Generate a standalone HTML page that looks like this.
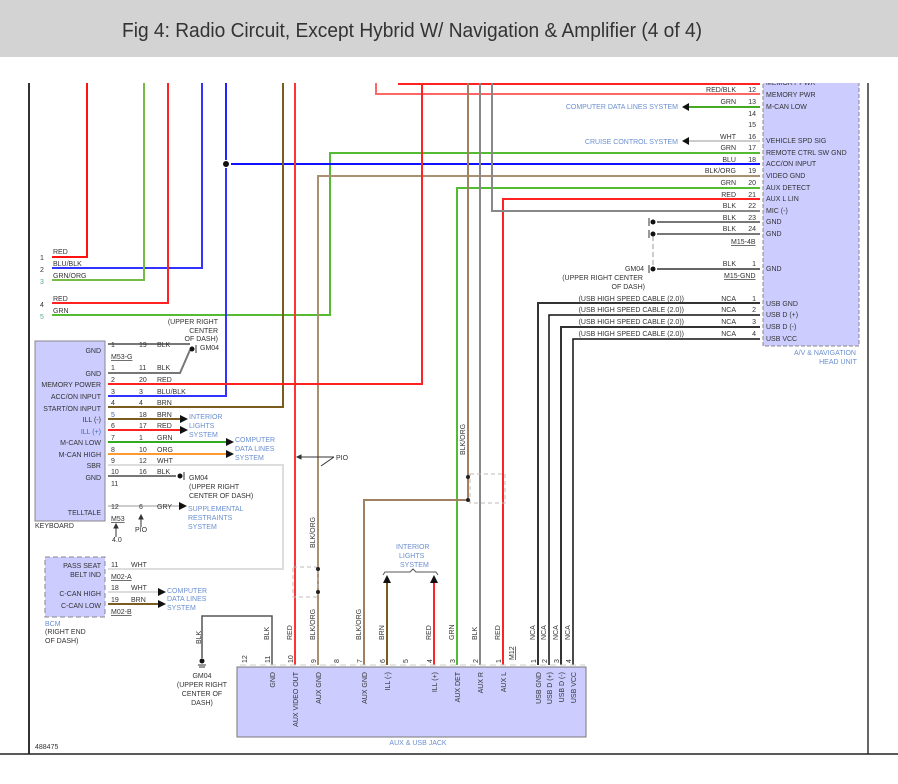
<!DOCTYPE html>
<html><head><meta charset="utf-8"><style>
html,body{margin:0;padding:0;background:#fff;}
svg{display:block;font-family:"Liberation Sans",sans-serif;}
.t{font-size:7px;fill:#333;}
.b{font-size:7px;fill:#6a8fd0;}
.l{font-size:7.5px;fill:#333;}
</style></head><body>
<svg width="898" height="784" viewBox="0 0 898 784" xmlns="http://www.w3.org/2000/svg">
<!-- AV head unit -->
<rect x="763" y="76" width="96" height="270" fill="#ccccff" stroke="#888" stroke-dasharray="4,2"/>
<g class="t" fill="#333">
<text x="766" y="85">MEMORY PWR</text>
<text x="766" y="97">MEMORY PWR</text>
<text x="766" y="109">M-CAN LOW</text>
<text x="766" y="143">VEHICLE SPD SIG</text>
<text x="766" y="155">REMOTE CTRL SW GND</text>
<text x="766" y="166">ACC/ON INPUT</text>
<text x="766" y="178">VIDEO GND</text>
<text x="766" y="190">AUX DETECT</text>
<text x="766" y="201">AUX L LIN</text>
<text x="766" y="213">MIC (-)</text>
<text x="766" y="224">GND</text>
<text x="766" y="236">GND</text>
<text x="766" y="271">GND</text>
<text x="766" y="306">USB GND</text>
<text x="766" y="317">USB D (+)</text>
<text x="766" y="329">USB D (-)</text>
<text x="766" y="341">USB VCC</text>
</g>
<rect x="0" y="57" width="898" height="26" fill="#fff"/>
<rect x="0" y="0" width="898" height="57" fill="#d3d3d3"/>
<text x="122" y="37" font-size="20" fill="#333" textLength="580" lengthAdjust="spacingAndGlyphs">Fig 4: Radio Circuit, Except Hybrid W/ Navigation &amp; Amplifier (4 of 4)</text>
<!-- frame -->
<line x1="29" y1="83" x2="29" y2="754" stroke="#333" stroke-width="2"/>
<line x1="868" y1="83" x2="868" y2="754" stroke="#333" stroke-width="1.5"/>
<line x1="0" y1="754" x2="898" y2="754" stroke="#222" stroke-width="1.5"/>
<text x="35" y="749" class="t">488475</text>

<text x="825" y="355" class="b" text-anchor="middle">A/V &amp; NAVIGATION</text>
<text x="838" y="364" class="b" text-anchor="middle">HEAD UNIT</text>
<g class="t" text-anchor="end">
<text x="756" y="92">12</text><text x="736" y="92">RED/BLK</text>
<text x="756" y="104">13</text><text x="736" y="104">GRN</text>
<text x="756" y="116">14</text>
<text x="756" y="127">15</text>
<text x="756" y="139">16</text><text x="736" y="139">WHT</text>
<text x="756" y="150">17</text><text x="736" y="150">GRN</text>
<text x="756" y="162">18</text><text x="736" y="162">BLU</text>
<text x="756" y="173">19</text><text x="736" y="173">BLK/ORG</text>
<text x="756" y="185">20</text><text x="736" y="185">GRN</text>
<text x="756" y="197">21</text><text x="736" y="197">RED</text>
<text x="756" y="208">22</text><text x="736" y="208">BLK</text>
<text x="756" y="220">23</text><text x="736" y="220">BLK</text>
<text x="756" y="231">24</text><text x="736" y="231">BLK</text>
<text x="756" y="266">1</text><text x="736" y="266">BLK</text>
<text x="756" y="301">1</text><text x="736" y="301">NCA</text>
<text x="756" y="312">2</text><text x="736" y="312">NCA</text>
<text x="756" y="324">3</text><text x="736" y="324">NCA</text>
<text x="756" y="336">4</text><text x="736" y="336">NCA</text>
<text x="684" y="301">(USB HIGH SPEED CABLE (2.0))</text>
<text x="684" y="312">(USB HIGH SPEED CABLE (2.0))</text>
<text x="684" y="324">(USB HIGH SPEED CABLE (2.0))</text>
<text x="684" y="336">(USB HIGH SPEED CABLE (2.0))</text>
<text x="644" y="271">GM04</text>
<text x="643" y="280">(UPPER RIGHT CENTER</text>
<text x="645" y="289">OF DASH)</text>
</g>
<text x="678" y="109" class="b" text-anchor="end">COMPUTER DATA LINES SYSTEM</text>
<text x="678" y="144" class="b" text-anchor="end">CRUISE CONTROL SYSTEM</text>
<text x="731" y="244" class="t" text-decoration="underline">M15-4B</text>
<text x="724" y="278" class="t" text-decoration="underline">M15-GND</text>

<!-- top-right wires -->
<g fill="none" stroke-width="2">
<polyline points="398,84 760,84" stroke="#ff2222"/>
<polyline points="376,83 376,94 760,94" stroke="#ff6666"/>
<polyline points="689,107 760,107" stroke="#44aa22"/>
<polyline points="689,141 760,141" stroke="#ccc"/>
<polyline points="87,83 87,257 52,257" stroke="#ff1111"/>
<polyline points="202,83 202,268 52,268" stroke="#3333ff"/>
<polyline points="144,83 144,280 52,280" stroke="#77bb44"/>
<polyline points="168,83 168,303 52,303" stroke="#ff2222"/>
<polyline points="52,315 330,315 330,153 760,153" stroke="#55bb33"/>
<polyline points="226,83 226,160" stroke="#2222ff"/>
<polyline points="226,168 226,396 108,396" stroke="#3333ff"/>
<polyline points="231,164 760,164" stroke="#1111ff"/>
<polyline points="283,83 283,407 108,407" stroke="#7a5c1e"/>
<polyline points="295,83 295,665" stroke="#ff3333"/>
<polyline points="760,176 318,176 318,665" stroke="#a89070"/>
<polyline points="422,83 422,384 108,384" stroke="#ff2222"/>
<polyline points="760,188 457,188 457,665" stroke="#55bb33"/>
<polyline points="760,199 503,199 503,665" stroke="#ff2222"/>
<polyline points="492,83 492,211 760,211" stroke="#888"/>
<polyline points="468,83 468,500 364,500 364,665" stroke="#a08060"/>
<polyline points="480,83 480,665" stroke="#888"/>
<polyline points="657,222 760,222" stroke="#777"/>
<polyline points="657,234 760,234" stroke="#777"/>
<polyline points="657,269 760,269" stroke="#666"/>
<polyline points="760,303 538,303 538,665" stroke="#333"/>
<polyline points="760,315 549,315 549,665" stroke="#111" stroke-width="1.5"/>
<polyline points="760,327 561,327 561,665" stroke="#333"/>
<polyline points="760,339 573,339 573,665" stroke="#111" stroke-width="1.5"/>
</g>
<line x1="653" y1="236" x2="653" y2="266" stroke="#999" stroke-dasharray="5,3"/>
<g fill="#111">
<circle cx="226" cy="164" r="3"/>
<circle cx="653" cy="222" r="2.5"/><circle cx="653" cy="234" r="2.5"/><circle cx="653" cy="269" r="2.5"/>
<polygon points="682,107 689,103 689,111"/>
<polygon points="682,141 689,137 689,145"/>
</g>
<g stroke="#333" fill="none"><line x1="649" y1="218" x2="649" y2="226"/><line x1="649" y1="230" x2="649" y2="238"/><line x1="649" y1="265" x2="649" y2="273"/></g>
<g class="t">
<text x="53" y="254">RED</text><text x="40" y="260">1</text>
<text x="53" y="266">BLU/BLK</text><text x="40" y="272">2</text>
<text x="53" y="278">GRN/ORG</text><text x="40" y="284" fill="#5a9">3</text>
<text x="53" y="301">RED</text><text x="40" y="307">4</text>
<text x="53" y="313">GRN</text><text x="40" y="319" fill="#5a9">5</text>
<text x="218" y="324" text-anchor="end">(UPPER RIGHT</text>
<text x="218" y="333" text-anchor="end">CENTER</text>
<text x="218" y="341" text-anchor="end">OF DASH)</text>
</g>

<!-- keyboard -->
<rect x="35" y="341" width="70" height="180" fill="#ccccff" stroke="#888"/>
<g class="t" text-anchor="end">
<text x="101" y="353">GND</text><text x="101" y="376">GND</text>
<text x="101" y="387">MEMORY POWER</text><text x="101" y="399">ACC/ON INPUT</text>
<text x="101" y="411">START/ON INPUT</text><text x="101" y="422">ILL (-)</text>
<text x="101" y="434" fill="#46a">ILL (+)</text><text x="101" y="445">M-CAN LOW</text>
<text x="101" y="457">M-CAN HIGH</text><text x="101" y="468">SBR</text>
<text x="101" y="480">GND</text><text x="101" y="515">TELLTALE</text>
</g>
<text x="35" y="528" class="t">KEYBOARD</text>
<g fill="none" stroke-width="2">
<polyline points="108,344 190,344" stroke="#777"/>
<polyline points="108,373 180,373 190,350" stroke="#777"/>
<polyline points="108,419 180,419" stroke="#7a5c1e"/>
<polyline points="108,430 180,430" stroke="#ff2222"/>
<polyline points="108,442 226,442" stroke="#33aa22"/>
<polyline points="108,454 226,454" stroke="#ff9933"/>
<polyline points="108,465 283,465 283,569 108,569" stroke="#ddd"/>
<polyline points="108,476 176,476" stroke="#777"/>
<polyline points="108,506 180,506" stroke="#ccc"/>
<polyline points="108,592 158,592" stroke="#ddd"/>
<polyline points="108,604 158,604" stroke="#7a5c1e"/>
</g>
<g fill="#111">
<circle cx="192" cy="349" r="2.5"/><circle cx="180" cy="476" r="2.5"/>
<polygon points="188,419 180,415 180,423"/><polygon points="188,430 180,426 180,434"/>
<polygon points="234,442 226,438 226,446"/><polygon points="234,454 226,450 226,458"/>
<polygon points="187,506 179,502 179,510"/>
<polygon points="166,592 158,588 158,596"/><polygon points="166,604 158,600 158,608"/>
</g>
<g stroke="#333"><line x1="196" y1="345" x2="196" y2="353"/><line x1="184" y1="472" x2="184" y2="480"/></g>
<g class="t">
<text x="111" y="347">1</text><text x="139" y="347">19</text><text x="157" y="347">BLK</text>
<text x="111" y="359" text-decoration="underline">M53-G</text>
<text x="111" y="370">1</text><text x="139" y="370">11</text><text x="157" y="370">BLK</text>
<text x="111" y="382">2</text><text x="139" y="382">20</text><text x="157" y="382">RED</text>
<text x="111" y="394">3</text><text x="139" y="394">3</text><text x="157" y="394">BLU/BLK</text>
<text x="111" y="405">4</text><text x="139" y="405">4</text><text x="157" y="405">BRN</text>
<text x="111" y="417" fill="#46a">5</text><text x="139" y="417">18</text><text x="157" y="417">BRN</text>
<text x="111" y="428">6</text><text x="139" y="428">17</text><text x="157" y="428">RED</text>
<text x="111" y="440">7</text><text x="139" y="440">1</text><text x="157" y="440">GRN</text>
<text x="111" y="452">8</text><text x="139" y="452">10</text><text x="157" y="452">ORG</text>
<text x="111" y="463">9</text><text x="139" y="463">12</text><text x="157" y="463">WHT</text>
<text x="111" y="474">10</text><text x="139" y="474">16</text><text x="157" y="474">BLK</text>
<text x="111" y="486">11</text>
<text x="111" y="509">12</text><text x="139" y="509">6</text><text x="157" y="509">GRY</text>
<text x="111" y="521" text-decoration="underline">M53</text>
<text x="112" y="542">4.0</text><text x="135" y="532">PIO</text>
<text x="200" y="350">GM04</text>
<text x="189" y="480">GM04</text><text x="189" y="489">(UPPER RIGHT</text><text x="189" y="498">CENTER OF DASH)</text>
<text x="336" y="460">PIO</text>
</g>
<g stroke="#333" fill="#333">
<line x1="116" y1="537" x2="116" y2="527"/><polygon points="116,524 114,528 118,528"/>
<line x1="141" y1="527" x2="141" y2="518"/><polygon points="141,515 139,519 143,519"/>
<line x1="334" y1="457" x2="299" y2="457"/><polygon points="297,457 301,455 301,459"/>
<line x1="334" y1="457" x2="321" y2="466"/>
</g>
<g class="b">
<text x="189" y="419">INTERIOR</text><text x="189" y="428">LIGHTS</text><text x="189" y="437">SYSTEM</text>
<text x="235" y="442">COMPUTER</text><text x="235" y="451">DATA LINES</text><text x="235" y="460">SYSTEM</text>
<text x="188" y="511">SUPPLEMENTAL</text><text x="188" y="520">RESTRAINTS</text><text x="188" y="529">SYSTEM</text>
<text x="167" y="593">COMPUTER</text><text x="167" y="601">DATA LINES</text><text x="167" y="610">SYSTEM</text>
<text x="396" y="549">INTERIOR</text><text x="399" y="558">LIGHTS</text><text x="400" y="567">SYSTEM</text>
</g>

<!-- BCM -->
<rect x="45" y="557" width="60" height="60" fill="#ccccff" stroke="#888" stroke-dasharray="5,3"/>
<g class="t" text-anchor="end">
<text x="101" y="568">PASS SEAT</text><text x="101" y="577">BELT IND</text>
<text x="101" y="596">C-CAN HIGH</text><text x="101" y="608">C-CAN LOW</text>
</g>
<g class="t">
<text x="111" y="567">11</text><text x="131" y="567">WHT</text>
<text x="111" y="579" text-decoration="underline">M02-A</text>
<text x="111" y="590">18</text><text x="131" y="590">WHT</text>
<text x="111" y="602">19</text><text x="131" y="602">BRN</text>
<text x="111" y="614" text-decoration="underline">M02-B</text>
</g>
<g class="b"><text x="45" y="626">BCM</text></g>
<g class="t"><text x="45" y="634">(RIGHT END</text><text x="45" y="643">OF DASH)</text></g>

<!-- splices -->
<rect x="293" y="567" width="25" height="30" fill="none" stroke="#bbb" stroke-dasharray="4,3"/>
<rect x="470" y="474" width="35" height="29" fill="none" stroke="#bbb" stroke-dasharray="4,3"/>
<g fill="#222"><circle cx="318" cy="569" r="2"/><circle cx="318" cy="592" r="2"/><circle cx="468" cy="477" r="2"/><circle cx="468" cy="500" r="2"/></g>

<!-- interior lights arrows -->
<polyline points="383,575 385,572 410,572 413,569 416,572 436,572 438,575" fill="none" stroke="#555"/>
<line x1="387" y1="582" x2="387" y2="665" stroke="#7a5c1e" stroke-width="2"/>
<line x1="434" y1="582" x2="434" y2="665" stroke="#ff2222" stroke-width="2"/>
<polygon points="387,575 383,583 391,583" fill="#111"/>
<polygon points="434,575 430,583 438,583" fill="#111"/>

<!-- GM04 ground bottom -->
<polyline points="272,665 272,616 202,616 202,658" fill="none" stroke="#555" stroke-width="1.5"/>
<circle cx="202" cy="661" r="2.5" fill="#111"/>
<g stroke="#333"><line x1="198" y1="665" x2="206" y2="665"/><line x1="199" y1="667" x2="205" y2="667"/></g>
<g class="t" text-anchor="middle">
<text x="202" y="678">GM04</text><text x="202" y="687">(UPPER RIGHT</text><text x="202" y="696">CENTER OF</text><text x="202" y="705">DASH)</text>
</g>

<!-- AUX jack -->
<rect x="237" y="667" width="349" height="70" fill="#ccccff" stroke="#777"/>
<text x="418" y="745" class="b" text-anchor="middle">AUX &amp; USB JACK</text>
<g class="t">
<text transform="translate(201,644) rotate(-90)">BLK</text>
<text transform="translate(269,640) rotate(-90)">BLK</text>
<text transform="translate(292,640) rotate(-90)">RED</text>
<text transform="translate(315,640) rotate(-90)">BLK/ORG</text>
<text transform="translate(315,548) rotate(-90)">BLK/ORG</text>
<text transform="translate(361,640) rotate(-90)">BLK/ORG</text>
<text transform="translate(465,455) rotate(-90)">BLK/ORG</text>
<text transform="translate(384,640) rotate(-90)">BRN</text>
<text transform="translate(431,640) rotate(-90)">RED</text>
<text transform="translate(454,640) rotate(-90)">GRN</text>
<text transform="translate(477,640) rotate(-90)">BLK</text>
<text transform="translate(500,640) rotate(-90)">RED</text>
<text transform="translate(514,660) rotate(-90)" text-decoration="underline">M12</text>
<text transform="translate(535,640) rotate(-90)">NCA</text>
<text transform="translate(546,640) rotate(-90)">NCA</text>
<text transform="translate(558,640) rotate(-90)">NCA</text>
<text transform="translate(570,640) rotate(-90)">NCA</text>
</g>
<g class="t">
<text transform="translate(247,663) rotate(-90)">12</text>
<text transform="translate(270,663) rotate(-90)">11</text>
<text transform="translate(293,663) rotate(-90)">10</text>
<text transform="translate(316,663) rotate(-90)">9</text>
<text transform="translate(339,663) rotate(-90)">8</text>
<text transform="translate(362,663) rotate(-90)">7</text>
<text transform="translate(385,663) rotate(-90)">6</text>
<text transform="translate(408,663) rotate(-90)">5</text>
<text transform="translate(432,663) rotate(-90)">4</text>
<text transform="translate(455,663) rotate(-90)">3</text>
<text transform="translate(478,663) rotate(-90)">2</text>
<text transform="translate(501,663) rotate(-90)">1</text>
<text transform="translate(536,663) rotate(-90)">1</text>
<text transform="translate(547,663) rotate(-90)">2</text>
<text transform="translate(559,663) rotate(-90)">3</text>
<text transform="translate(571,663) rotate(-90)">4</text>
</g>
<g class="t" text-anchor="end">
<text transform="translate(275,672) rotate(-90)">GND</text>
<text transform="translate(298,672) rotate(-90)">AUX VIDEO OUT</text>
<text transform="translate(321,672) rotate(-90)">AUX GND</text>
<text transform="translate(367,672) rotate(-90)">AUX GND</text>
<text transform="translate(390,672) rotate(-90)">ILL (-)</text>
<text transform="translate(437,672) rotate(-90)">ILL (+)</text>
<text transform="translate(460,672) rotate(-90)">AUX DET</text>
<text transform="translate(483,672) rotate(-90)">AUX R</text>
<text transform="translate(506,672) rotate(-90)">AUX L</text>
<text transform="translate(541,672) rotate(-90)">USB GND</text>
<text transform="translate(552,672) rotate(-90)">USB D (+)</text>
<text transform="translate(564,672) rotate(-90)">USB D (-)</text>
<text transform="translate(576,672) rotate(-90)">USB VCC</text>
</g>
<line x1="240" y1="665" x2="585" y2="665" stroke="#ccc" stroke-dasharray="6,4"/>
</svg>
</body></html>
